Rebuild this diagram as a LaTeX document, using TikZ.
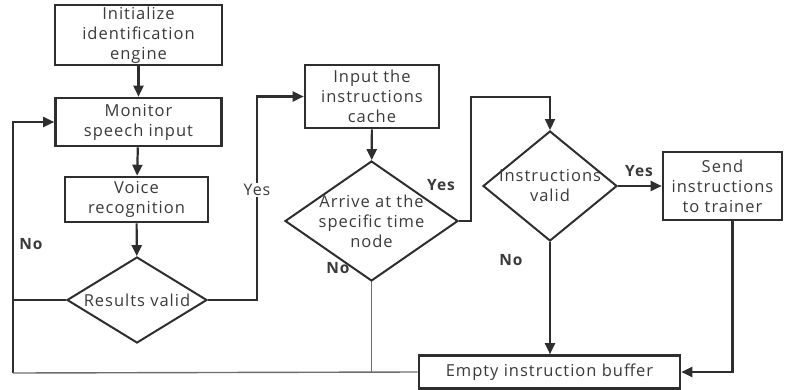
\documentclass[tikz,border=0pt]{standalone}
\usepackage{fontspec}
\setmainfont[LetterSpace=6]{Open Sans}
\usetikzlibrary{shapes.geometric,arrows.meta}
\definecolor{ink}{HTML}{2E2E2E}
\definecolor{txt}{HTML}{3A3A3A}
\tikzset{
  box/.style={draw=ink, line width=2.6pt, fill=white, align=center, text=txt,
    font=\fontsize{16.5}{20}\selectfont, inner sep=0pt},
  dia/.style={draw=ink, line width=2pt, diamond, inner sep=0pt},
  diatext/.style={align=center, text=txt, font=\fontsize{16.5}{20}\selectfont, inner sep=0pt},
  conn/.style={draw=ink, line width=2.2pt},
  arr/.style={conn, -{Triangle[length=11pt,width=10pt]}},
  thinln/.style={draw=ink!70, line width=1.4pt},
  lbl/.style={text=txt, font=\fontsize{15.5}{18}\selectfont\bfseries, inner sep=1pt},
  lblp/.style={text=txt, font=\fontsize{16}{18}\selectfont, inner sep=1pt, fill=white}
}
\begin{document}
\begin{tikzpicture}[x=1pt,y=-1pt]
\useasboundingbox (0,0) rectangle (788,389);
\node[box, minimum width=167pt, minimum height=60pt] (init) at (138.5,35) {Initialize\\identification\\engine};
\node[box, minimum width=166pt, minimum height=48pt] (mon) at (138.5,122) {Monitor\\speech input};
\node[box, minimum width=143pt, minimum height=45pt] (voice) at (136.5,199.5) {Voice\\recognition};
\node[dia, minimum width=140pt, minimum height=86pt,
  label={[diatext]center:Results valid}] (res) at (137,300) {};
\node[box, minimum width=134pt, minimum height=63pt] (input) at (372,96.5) {Input the\\instructions\\cache};
\node[dia, minimum width=173pt, minimum height=120pt,
  label={[diatext]center:Arrive at the\\specific time\\node}] (time) at (371.5,221) {};
\node[dia, minimum width=134pt, minimum height=110pt,
  label={[diatext]center:Instructions\\valid}] (valid) at (550,186) {};
\node[box, minimum width=119pt, minimum height=68pt] (send) at (722.5,186) {Send\\instructions\\to trainer};
\node[box, minimum width=261pt, minimum height=33pt] (empty) at (549.5,372) {Empty instruction buffer};
\coordinate (bl) at (13,373);
\coordinate (tp) at (550,97);
% main column
\draw[arr] (init) -- (mon);
\draw[arr] (mon) -- (voice);
\draw[arr] (voice) -- (res);
% No loop
\draw[conn] (res.west) -- (res.west -| bl);
\draw[arr] (bl) |- (mon.west);
\draw[thinln] (bl) -- (empty.west);
% Yes path
\draw[arr] (res.east) -- ++(49,0) |- (input.west);
\node[lblp] (yes1) at (257,190) {Yes};
\draw[arr] (input) -- (time);
\draw[arr] (time.east) -- ++(12,0) |- (tp) -- (valid.north);
\draw[thinln] (time.south) -- (time.south |- empty.west);
\draw[arr] (valid.east) -- (send.west);
\draw[arr] (valid.south) -- (valid.south |- empty.north);
\draw[arr] ([xshift=10pt]send.south) |- (empty.east);
% labels
\node[lbl] (no1) at (31,244) {No};
\node[lbl] (yes2) at (441,185) {Yes};
\node[lbl] (no2) at (338,268) {No};
\node[lbl] (yes3) at (639,171) {Yes};
\node[lbl] (no3) at (511,260) {No};
\end{tikzpicture}
\end{document}
